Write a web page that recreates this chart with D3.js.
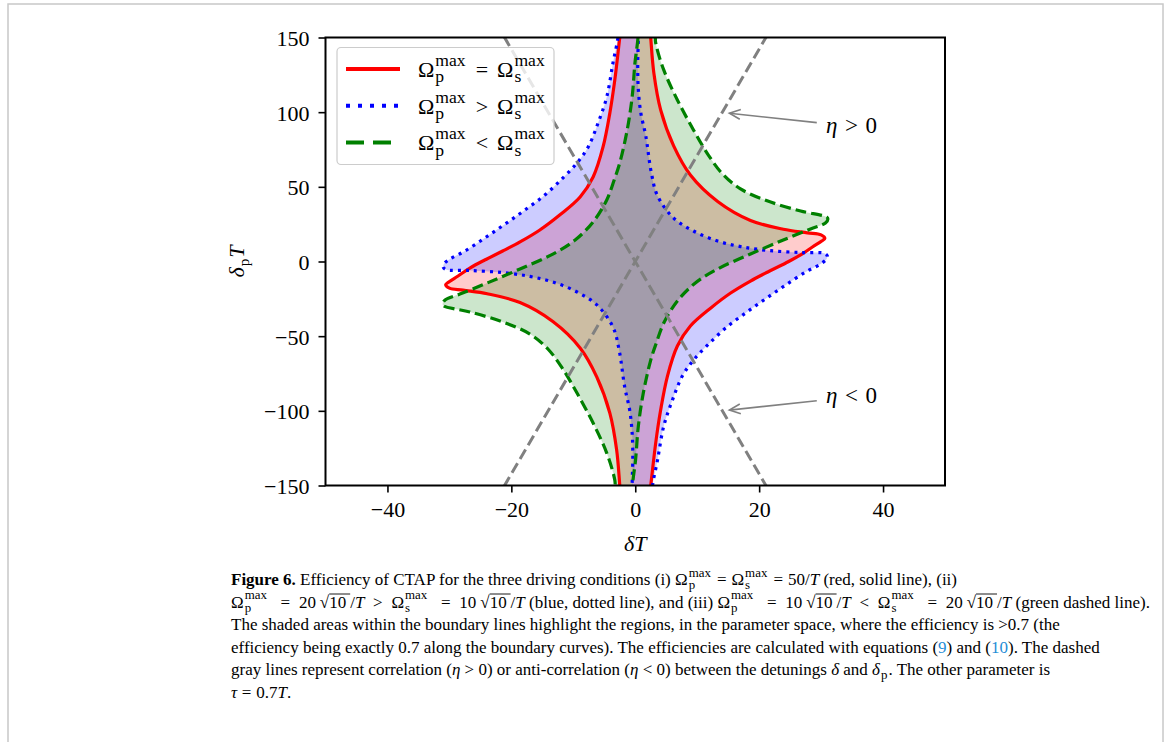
<!DOCTYPE html>
<html>
<head>
<meta charset="utf-8">
<script src="https://cdn.jsdelivr.net/npm/d3@7"></script>
<style>
  body { margin: 0; background: #fff; }
  svg { display: block; }
  text { font-family: "Liberation Serif", serif; white-space: pre; }
</style>
</head>
<body>
<svg id="chart" width="1167" height="742"></svg>
<script>
// tick values
const xTicks = [-40, -20, 0, 20, 40];
const yTicks = [-150, -100, -50, 0, 50, 100, 150];

// efficiency = 0.7 boundary, Omega_p = Omega_s (red)
const redCurve = [
  [-2.2,160],[-2.5,150],[-3.3,121.6],[-4.1,99.5],[-5.2,76.7],[-6.8,56.6],[-8.9,43.2],[-12.2,31.1],
  [-15.4,21.1],[-18.6,13.1],[-21.4,7.0],[-24.3,1.0],[-26.7,-4.4],[-28.6,-9.7],[-30.1,-13.7],[-30.6,-15.5],
  [-30.0,-17.8],[-27.8,-19.2],[-23.9,-21.6],[-18.6,-27.5],[-13.3,-40.2],[-8.9,-57.9],[-6.2,-77.4],
  [-4.1,-101.5],[-3.0,-126.3],[-2.5,-149.7],[-2.3,-160],
  [2.2,-160],[2.5,-150],[3.3,-121.6],[4.1,-99.5],[5.2,-76.7],[6.8,-56.6],[8.9,-43.2],[12.2,-31.1],
  [15.4,-21.1],[18.6,-13.1],[21.4,-7.0],[24.3,-1.0],[26.7,4.4],[28.6,9.7],[30.1,13.7],[30.6,15.5],
  [30.0,17.8],[27.8,19.2],[23.9,21.6],[18.6,27.5],[13.3,40.2],[8.9,57.9],[6.2,77.4],
  [4.1,101.5],[3.0,126.3],[2.5,149.7],[2.3,160]
];

// Omega_p > Omega_s (blue)
const blueCurve = [
  [-2.6,160],[-2.8,149.7],[-3.6,132.9],[-4.6,110.2],[-6.0,92.8],[-7.6,76.7],[-9.4,66.0],[-11.7,55.9],
  [-14.6,44.5],[-17.8,34.5],[-21.0,25.1],[-24.3,15.7],[-27.5,7.0],[-29.9,1.7],[-30.9,-1.7],[-31.0,-3.7],
  [-30.6,-5.4],[-26.7,-6.0],[-21.4,-7.4],[-17.0,-10.0],[-13.3,-13.7],[-9.4,-20.4],[-6.2,-29.1],
  [-3.6,-43.9],[-2.6,-59.3],[-1.7,-84.1],[-0.9,-99.5],[-0.5,-114.9],[-0.4,-131.0],[-0.5,-149.7],[-0.5,-160],
  [2.6,-160],[2.8,-149.7],[3.6,-132.9],[4.6,-110.2],[6.0,-92.8],[7.6,-76.7],[9.4,-66.0],[11.7,-55.9],
  [14.6,-44.5],[17.8,-34.5],[21.0,-25.1],[24.3,-15.7],[27.5,-7.0],[29.9,-1.7],[30.9,1.7],[31.0,3.7],
  [30.6,5.4],[26.7,6.0],[21.4,7.4],[17.0,10.0],[13.3,13.7],[9.4,20.4],[6.2,29.1],
  [3.6,43.9],[2.6,59.3],[1.7,84.1],[0.9,99.5],[0.5,114.9],[0.4,131.0],[0.5,149.7],[0.5,160]
];

// Omega_p < Omega_s (green)
const greenCurve = [
  [0.5,160],[0.44,149.7],[-0.05,132.9],[-0.5,110.2],[-1.3,88.1],[-2.5,66.0],[-3.4,54.6],[-4.6,41.2],
  [-6.8,26.5],[-9.7,14.4],[-13.3,5.0],[-18.6,-5.0],[-23.9,-14.4],[-28.3,-21.8],[-30.7,-25.8],[-31.1,-28.5],
  [-30.9,-29.8],[-26.7,-33.8],[-21.4,-40.5],[-17.0,-48.6],[-14.1,-58.6],[-11.8,-71.3],[-9.4,-88.1],
  [-6.8,-108.2],[-4.6,-128.3],[-3.3,-146.4],[-3.0,-160],
  [-0.5,-160],[-0.44,-149.7],[0.05,-132.9],[0.5,-110.2],[1.3,-88.1],[2.5,-66.0],[3.4,-54.6],[4.6,-41.2],
  [6.8,-26.5],[9.7,-14.4],[13.3,-5.0],[18.6,5.0],[23.9,14.4],[28.3,21.8],[30.7,25.8],[31.1,28.5],
  [30.9,29.8],[26.7,33.8],[21.4,40.5],[17.0,48.6],[14.1,58.6],[11.8,71.3],[9.4,88.1],
  [6.8,108.2],[4.6,128.3],[3.3,146.4],[3.0,160]
];

// correlation lines
const etaPos = [[-22.5,-160],[22.5,160]];
const etaNeg = [[-22.5,160],[22.5,-160]];

const margin = { top: 37.5, right: 222, bottom: 256.5, left: 325.5 };
const W = 1167, H = 742;

const svg = d3.select("#chart");

// page frame
svg.append("rect").attr("x", 8).attr("y", 4).attr("width", 1155).attr("height", 760)
  .attr("fill", "none").attr("stroke", "#c8c8c8").attr("stroke-width", 1.5);

const x = d3.scaleLinear().domain([-50, 50]).range([margin.left, W - margin.right]);
const y = d3.scaleLinear().domain([-150, 150]).range([H - margin.bottom, margin.top]);

svg.append("clipPath").attr("id", "plotclip").append("rect")
  .attr("x", x(-50)).attr("y", y(150)).attr("width", x(50) - x(-50)).attr("height", y(-150) - y(150));

const plot = svg.append("g").attr("clip-path", "url(#plotclip)");

const curve = d3.line().x(d => x(d[0])).y(d => y(d[1])).curve(d3.curveCatmullRomClosed.alpha(0.5));
const straight = d3.line().x(d => x(d[0])).y(d => y(d[1]));

const series = [
  { data: redCurve, color: "#ff0000", fill: "rgb(255,0,0)", dash: null },
  { data: blueCurve, color: "#0000ff", fill: "rgb(0,0,255)", dash: "3,5" },
  { data: greenCurve, color: "#008000", fill: "rgb(0,128,0)", dash: "11,5" }
];

series.forEach(s => {
  plot.append("path").attr("d", curve(s.data))
    .attr("fill", s.fill).attr("fill-opacity", 0.2).attr("stroke", "none");
});
series.forEach(s => {
  plot.append("path").attr("d", curve(s.data))
    .attr("fill", "none").attr("stroke", s.color).attr("stroke-width", 3.2)
    .attr("stroke-dasharray", s.dash);
});

[etaPos, etaNeg].forEach(l => {
  plot.append("path").attr("d", straight(l))
    .attr("fill", "none").attr("stroke", "#808080").attr("stroke-width", 3)
    .attr("stroke-dasharray", "11,5");
});

// axes
const fmt = d => d < 0 ? "\u2212" + Math.abs(d) : d;
const xAxis = svg.append("g").attr("transform", "translate(0," + y(-150) + ")")
  .call(d3.axisBottom(x).tickValues(xTicks).tickSize(7).tickSizeOuter(0).tickFormat(fmt));
const yAxis = svg.append("g").attr("transform", "translate(" + x(-50) + ",0)")
  .call(d3.axisLeft(y).tickValues(yTicks).tickSize(7).tickSizeOuter(0).tickFormat(fmt));
[xAxis, yAxis].forEach(a => {
  a.select(".domain").remove();
  a.selectAll(".tick line").attr("stroke", "#000").attr("stroke-width", 1.6);
  a.selectAll(".tick text").attr("fill", "#000").style("font-size", "22px")
    .style("font-family", "'Liberation Serif', serif");
});
xAxis.selectAll(".tick text").attr("y", 0).attr("dy", 0).attr("transform", "translate(0,31)");
yAxis.selectAll(".tick text").attr("x", -16).attr("dy", "0.36em");

svg.append("rect").attr("x", x(-50)).attr("y", y(150))
  .attr("width", x(50) - x(-50)).attr("height", y(-150) - y(150))
  .attr("fill", "none").attr("stroke", "#000").attr("stroke-width", 2);

// rich text helper: runs placed one after another, returns end x
function rich(g, x0, y0, runs, size, opts) {
  opts = opts || {};
  const small = size * (opts.scriptScale || 0.7);
  const pad = opts.relPad !== undefined ? opts.relPad : size * 0.28;
  const sqPad = opts.sqrtPad || 0;
  const scPad = opts.scriptPad || 0;
  let cx = x0;
  const put = (txt, xx, yy, fs, italic, bold, fill) => {
    const t = g.append("text").attr("x", xx).attr("y", yy)
      .style("font-size", fs + "px")
      .style("font-style", italic ? "italic" : "normal")
      .style("font-weight", bold ? "bold" : "normal")
      .attr("fill", fill || "#000").text(txt);
    return t.node().getComputedTextLength();
  };
  runs.forEach(r => {
    if (r.sub !== undefined || r.sup !== undefined) {
      let w = 0;
      if (r.sup) w = Math.max(w, put(r.sup, cx + 1, y0 - size * 0.5, small));
      if (r.sub) w = Math.max(w, put(r.sub, cx + 1, y0 + size * 0.24, small));
      cx += w + 2 + (r.sup ? scPad : 0);
    } else if (r.rel) {
      cx += pad;
      cx += put(r.rel, cx, y0, size);
      cx += pad;
    } else if (r.sqrt) {
      cx += sqPad;
      cx += put("\u221a", cx, y0, size);
      const w = put(r.sqrt, cx, y0, size);
      g.append("line").attr("x1", cx).attr("x2", cx + w + sqPad)
        .attr("y1", y0 - size * 0.8).attr("y2", y0 - size * 0.8)
        .attr("stroke", "#000").attr("stroke-width", 0.9);
      cx += w + sqPad;
    } else {
      cx += put(r.t, cx, y0, size, r.i, r.b, r.c);
    }
  });
  return cx;
}

// stretch the math spacing of a line so that it ends at a given x
function richFit(g, x0, y0, runs, size, opts, endX) {
  const tmp = g.append("g");
  const natural = rich(tmp, x0, y0, runs, size, opts) - x0;
  tmp.remove();
  const nRel = runs.filter(r => r.rel).length;
  const nSq = runs.filter(r => r.sqrt).length;
  const nSc = runs.filter(r => r.sup).length;
  const slots = 2 * nRel + 2 * nSq + nSc;
  const extra = slots ? (endX - x0 - natural) / slots : 0;
  const o = Object.assign({}, opts, {
    relPad: (opts.relPad !== undefined ? opts.relPad : size * 0.28) + extra,
    sqrtPad: (opts.sqrtPad || 0) + extra,
    scriptPad: (opts.scriptPad || 0) + extra
  });
  return rich(g, x0, y0, runs, size, o);
}

// legend
const legend = svg.append("g");
legend.append("rect").attr("x", 337).attr("y", 47.5).attr("width", 217).attr("height", 117)
  .attr("rx", 4).attr("fill", "#fff").attr("fill-opacity", 0.8)
  .attr("stroke", "#cccccc").attr("stroke-width", 1.2);
const legendRows = [
  { rel: "=", color: "#ff0000", dash: null },
  { rel: ">", color: "#0000ff", dash: "4,8" },
  { rel: "<", color: "#008000", dash: "18,9" }
];
legendRows.forEach((r, i) => {
  const yy = 69 + i * 36.7;
  legend.append("line").attr("x1", 346).attr("x2", 400).attr("y1", yy).attr("y2", yy)
    .attr("stroke", r.color).attr("stroke-width", 4).attr("stroke-dasharray", r.dash);
  rich(legend, 418, yy + 8, [{ t: "\u03a9" }, { sub: "p", sup: "max" }, { rel: r.rel }, { t: "\u03a9" }, { sub: "s", sup: "max" }],
    22, { scriptScale: 0.8, relPad: 9 });
});

// annotations
function arrow(tail, head, label, textPos) {
  const t = [x(tail[0]), y(tail[1])], h = [x(head[0]), y(head[1])];
  const a = Math.atan2(t[1] - h[1], t[0] - h[0]);
  const len = 12, spread = 0.42;
  svg.append("line").attr("x1", t[0]).attr("y1", t[1]).attr("x2", h[0]).attr("y2", h[1])
    .attr("stroke", "#808080").attr("stroke-width", 1.6);
  svg.append("path")
    .attr("d", d3.line()([[h[0] + len * Math.cos(a + spread), h[1] + len * Math.sin(a + spread)], h,
      [h[0] + len * Math.cos(a - spread), h[1] + len * Math.sin(a - spread)]]))
    .attr("fill", "none").attr("stroke", "#808080").attr("stroke-width", 1.6);
  rich(svg, x(textPos[0]), y(textPos[1]), label, 23, { relPad: 7.5 });
}
arrow([29.3, 93], [15.2, 99.3], [{ t: "\u03b7", i: true }, { rel: ">" }, { t: "0" }], [30.8, 86]);
arrow([29.3, -93.2], [15.2, -99.5], [{ t: "\u03b7", i: true }, { rel: "<" }, { t: "0" }], [30.8, -95]);

// axis labels
const xl = svg.append("g");
const xw = rich(xl, 0, 551, [{ t: "\u03b4", i: true }, { t: "T", i: true }], 22);
xl.attr("transform", "translate(" + (x(0) - xw / 2) + ",0)");
const ylOuter = svg.append("g").attr("transform", "translate(244," + y(0) + ") rotate(-90)");
const yl = ylOuter.append("g");
const yw = rich(yl, 0, 0, [{ t: "\u03b4", i: true }, { sub: "p" }, { t: "T", i: true }], 22);
yl.attr("transform", "translate(" + (-yw / 2) + ",0)");

// caption
const capX = 231, capY = 585, capDy = 22.6, capSize = 17;
const link = "#1f8dd6";
const capOpts = { scriptScale: 0.76 };
const caption = [
  [{ t: "Figure 6.", b: true }, { t: " Efficiency of CTAP for the three driving conditions (i) \u03a9" }, { sub: "p", sup: "max" },
   { rel: "=" }, { t: "\u03a9" }, { sub: "s", sup: "max" }, { rel: "=" }, { t: "50/" }, { t: "T", i: true }, { t: " (red, solid line), (ii)" }],
  [{ t: "\u03a9" }, { sub: "p", sup: "max" }, { rel: "=" }, { t: "20" }, { sqrt: "10" }, { t: "/" }, { t: "T", i: true },
   { rel: ">" }, { t: "\u03a9" }, { sub: "s", sup: "max" }, { rel: "=" }, { t: "10" }, { sqrt: "10" }, { t: "/" }, { t: "T", i: true },
   { t: " (blue, dotted line), and (iii) \u03a9" }, { sub: "p", sup: "max" }, { rel: "=" }, { t: "10" }, { sqrt: "10" }, { t: "/" },
   { t: "T", i: true }, { rel: "<" }, { t: "\u03a9" }, { sub: "s", sup: "max" }, { rel: "=" }, { t: "20" }, { sqrt: "10" }, { t: "/" },
   { t: "T", i: true }, { t: " (green dashed line)." }],
  [{ t: "The shaded areas within the boundary lines highlight the regions, in the parameter space, where the efficiency is >0.7 (the" }],
  [{ t: "efficiency being exactly 0.7 along the boundary curves). The efficiencies are calculated with equations (" },
   { t: "9", c: link }, { t: ") and (" }, { t: "10", c: link }, { t: "). The dashed" }],
  [{ t: "gray lines represent correlation (" }, { t: "\u03b7", i: true }, { t: " > 0) or anti-correlation (" },
   { t: "\u03b7", i: true }, { t: " < 0) between the detunings " }, { t: "\u03b4", i: true }, { t: " and " },
   { t: "\u03b4", i: true }, { sub: "p" }, { t: ". The other parameter is" }],
  [{ t: "\u03c4", i: true }, { rel: "=" }, { t: "0.7" }, { t: "T", i: true }, { t: "." }]
];
const capEnds = [957, 1150, null, null, null, null];
const capG = svg.append("g");
caption.forEach((line, i) => {
  const yy = capY + i * capDy;
  if (capEnds[i]) richFit(capG, capX, yy, line, capSize, capOpts, capEnds[i]);
  else rich(capG, capX, yy, line, capSize, capOpts);
});
</script>
</body>
</html>
